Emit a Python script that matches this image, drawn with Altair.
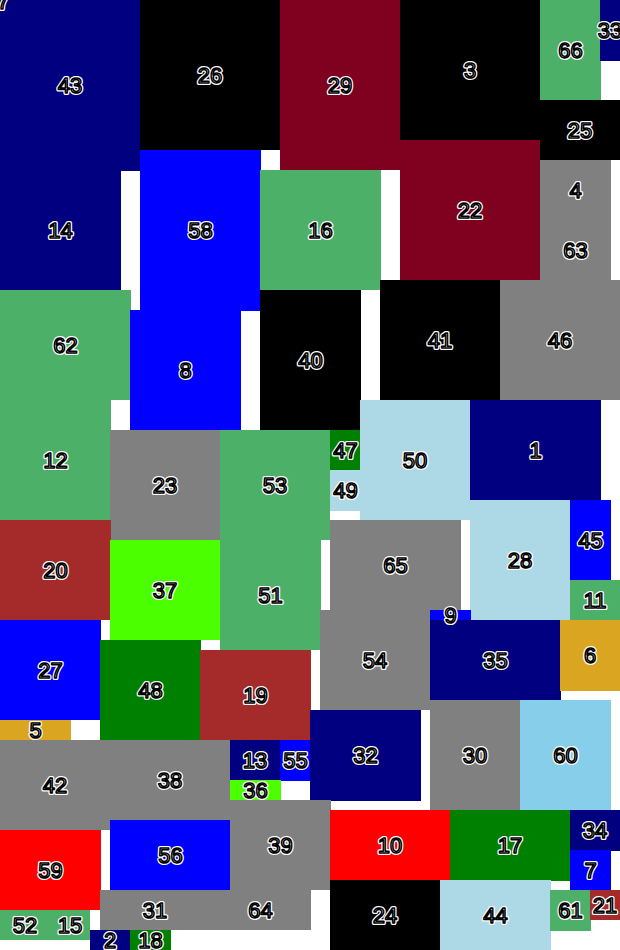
import altair as alt
import pandas as pd

labels = [57, 43, 26, 29, 3, 66, 33, 25, 14, 58, 16, 22, 4, 63,
          62, 8, 40, 41, 46, 12, 23, 53, 47, 49, 50, 1, 28, 45, 11,
          20, 37, 51, 65, 9, 54, 35, 6, 27, 48, 19, 5, 42, 38, 13, 55, 36,
          32, 30, 60, 59, 56, 39, 10, 17, 34, 7, 31, 64, 24, 44, 61, 21,
          52, 15, 2, 18]
x0 = [-25, 0, 140, 280, 400, 540, 600, 540, 0, 140, 260, 400, 540, 540,
      0, 130, 260, 380, 500, 0, 110, 220, 330, 330, 360, 470, 470, 570, 570,
      0, 110, 220, 330, 430, 320, 430, 560, 0, 100, 200, 0, 0, 110, 230, 280, 230,
      310, 430, 520, 0, 110, 230, 330, 450, 570, 570, 100, 210, 330, 440, 550, 590,
      0, 50, 90, 130]
x1 = [19, 140, 280, 400, 540, 601, 620, 620, 121, 261, 381, 540, 611, 611,
      131, 241, 361, 500, 620, 111, 220, 330, 361, 361, 470, 601, 570, 611, 620,
      111, 220, 321, 461, 471, 430, 561, 620, 101, 201, 311, 71, 110, 230, 280, 311, 281,
      421, 520, 611, 101, 231, 331, 450, 570, 620, 611, 210, 311, 440, 551, 591, 620,
      50, 90, 130, 171]
y0 = [-9, 0, 0, 0, 0, 0, 0, 100, 171, 150, 170, 140, 160, 220,
      290, 310, 290, 280, 280, 400, 430, 430, 430, 470, 400, 400, 500, 500, 580,
      520, 540, 540, 520, 610, 610, 620, 620, 620, 640, 650, 720, 740, 740, 740, 740, 780,
      710, 700, 700, 830, 820, 800, 810, 810, 810, 850, 890, 890, 880, 880, 890, 890,
      910, 910, 930, 930]
y1 = [11, 171, 150, 170, 140, 100, 61, 160, 290, 311, 290, 280, 220, 280,
      400, 430, 430, 400, 400, 520, 540, 540, 470, 511, 520, 500, 620, 580, 620,
      620, 640, 650, 610, 620, 710, 700, 691, 720, 740, 740, 740, 830, 820, 780, 781, 801,
      801, 810, 810, 910, 890, 890, 880, 881, 851, 890, 930, 930, 950, 950, 931, 920,
      940, 940, 950, 950]
colors = ["navy", "navy", "black", "burgundy", "black", "green", "navy", "black",
          "navy", "blue", "green", "burgundy", "gray", "gray",
          "green", "blue", "black", "black", "gray", "green", "gray", "green",
          "darkgreen", "lightblue", "lightblue", "navy", "lightblue", "blue", "green",
          "brown", "lawngreen", "green", "gray", "blue", "gray", "navy", "goldenrod",
          "blue", "darkgreen", "brown", "goldenrod", "gray", "gray", "navy", "blue",
          "lawngreen",
          "navy", "gray", "skyblue", "red", "blue", "gray", "red", "darkgreen", "navy",
          "blue", "gray", "gray", "black", "lightblue", "green", "brown",
          "green", "green", "navy", "darkgreen"]

color_names = ["navy", "black", "burgundy", "green", "blue", "gray", "darkgreen",
               "lightblue", "brown", "lawngreen", "goldenrod", "skyblue", "red"]
color_values = ["#000080", "#000000", "#800020", "#4DB069", "#0000FF", "#808080",
                "#008000", "#ADD8E6", "#A52A2A", "#4BFF00", "#DAA520", "#87CEEB",
                "#FF0000"]

df = pd.DataFrame({"label": labels, "x0": x0, "x1": x1, "y0": y0, "y1": y1,
                   "c": colors, "order": list(range(len(labels)))})

xs = alt.Scale(domain=[0, 620], nice=False, zero=False)
ys = alt.Scale(domain=[0, 950], nice=False, zero=False, reverse=True)

base = alt.Chart(df)

rects = base.mark_rect(strokeWidth=0).encode(
    x=alt.X("x0:Q", scale=xs, axis=None),
    x2="x1:Q",
    y=alt.Y("y0:Q", scale=ys, axis=None),
    y2="y1:Q",
    color=alt.Color("c:N", scale=alt.Scale(domain=color_names, range=color_values), legend=None),
    order="order:Q",
)

txt_base = base.transform_calculate(
    cx="(datum.x0 + datum.x1) / 2",
    cy="(datum.y0 + datum.y1) / 2 + 0.5",
)

halo = txt_base.mark_text(
    font="Liberation Sans", fontSize=22, fill="white", stroke="white",
    strokeWidth=4, align="center", baseline="middle", strokeJoin="round",
).encode(
    x=alt.X("cx:Q", scale=xs, axis=None),
    y=alt.Y("cy:Q", scale=ys, axis=None),
    text="label:N",
)

front = txt_base.mark_text(
    font="Liberation Sans", fontSize=22, fill="white", stroke="black",
    strokeWidth=1.5, align="center", baseline="middle", strokeJoin="round",
).encode(
    x=alt.X("cx:Q", scale=xs, axis=None),
    y=alt.Y("cy:Q", scale=ys, axis=None),
    text="label:N",
)

chart = alt.layer(rects, halo, front).properties(
    width=620, height=950, padding=0, autosize="none"
).configure_view(stroke=None)

chart.save("out.html", embed_options={"renderer": "svg", "actions": False})
